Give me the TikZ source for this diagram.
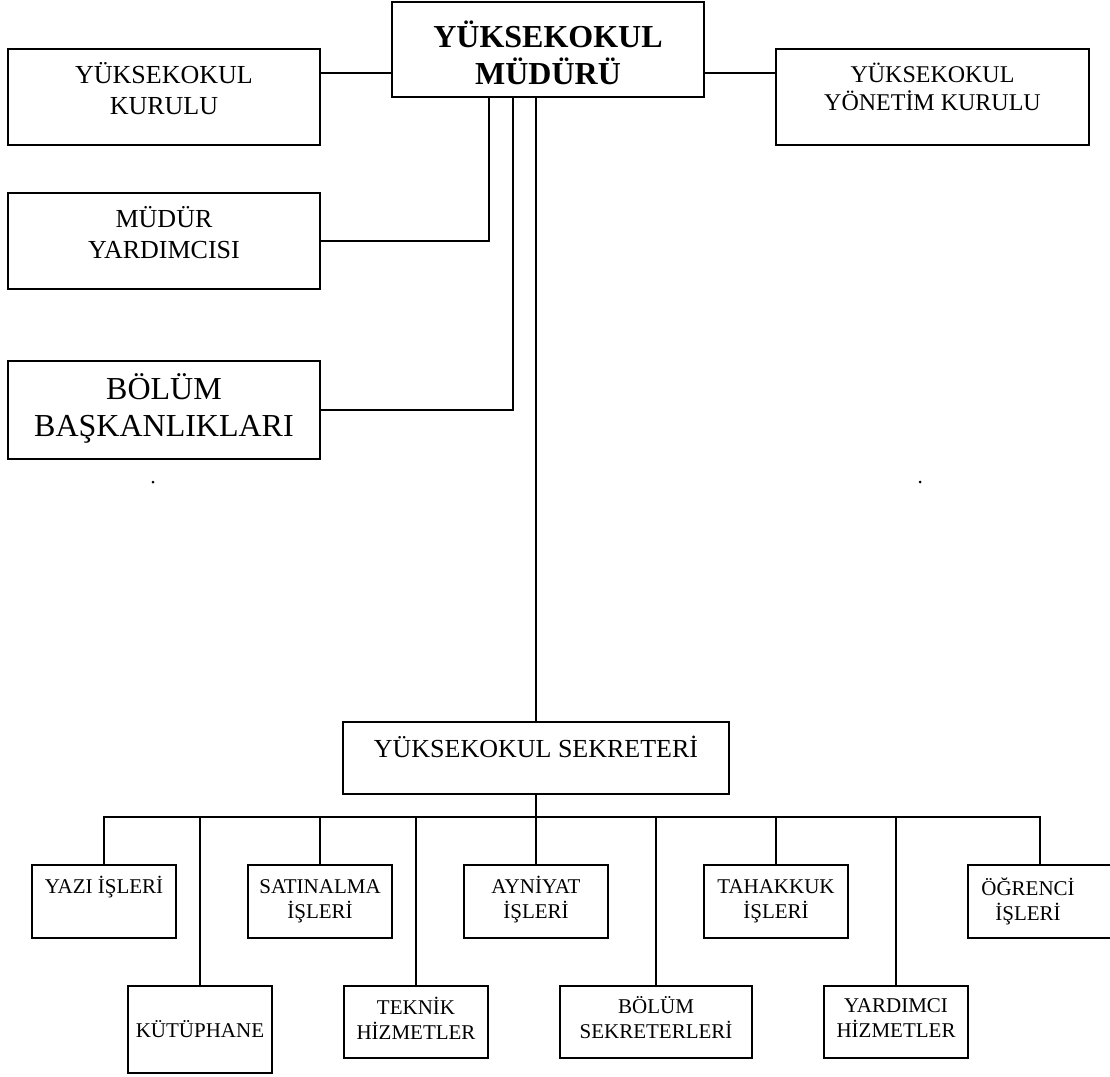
\documentclass[tikz,border=0pt]{standalone}
\usepackage{fontspec}
\setmainfont{Liberation Serif}
\begin{document}
\begin{tikzpicture}[x=1pt,y=1pt,
  box/.style={draw, line width=2pt, rectangle, inner sep=0pt, outer sep=0pt},
  conn/.style={line width=2pt},
  lbl/.style={align=center, inner sep=0pt},
  fbig/.style={font=\fontsize{32}{37}\selectfont},
  fbigb/.style={font=\fontsize{32}{37}\selectfont\bfseries},
  fmid/.style={font=\fontsize{26}{31}\selectfont},
  fmids/.style={font=\fontsize{24}{28}\selectfont},
  fsm/.style={font=\fontsize{21}{25}\selectfont}]
\useasboundingbox (0,0) rectangle (1110,-1076);

% top level
\node[box, minimum width=312pt, minimum height=95pt] (mudur) at (548,-49.5) {};
\node[lbl, fbigb] (mudur-t) at ([yshift=-3pt]mudur.center) {YÜKSEKOKUL\\MÜDÜRÜ};

\node[box, minimum width=312pt, minimum height=96pt] (kurulu) at (164,-97) {};
\node[lbl, fmid] (kurulu-t) at ([yshift=8pt]kurulu.center) {YÜKSEKOKUL\\KURULU};

\node[box, minimum width=313pt, minimum height=96pt] (yonetim) at (932.5,-97) {};
\node[lbl, fmids] (yonetim-t) at ([yshift=10pt]yonetim.center) {YÜKSEKOKUL\\YÖNETİM KURULU};

\node[box, minimum width=312pt, minimum height=96pt] (yard) at (164,-241) {};
\node[lbl, fmid] (yard-t) at ([yshift=8pt]yard.center) {MÜDÜR\\YARDIMCISI};

\node[box, minimum width=312pt, minimum height=98pt] (bask) at (164,-410) {};
\node[lbl, fbig] (bask-t) at ([yshift=2pt]bask.center) {BÖLÜM\\BAŞKANLIKLARI};

\node[box, minimum width=386pt, minimum height=72pt] (sek) at (536,-758) {};
\node[lbl, fmid] (sek-t) at ([yshift=11pt]sek.center) {YÜKSEKOKUL SEKRETERİ};

% first row of units
\node[box, minimum width=144pt, minimum height=73pt] (yazi) at (104,-901.5) {};
\node[lbl, fsm] (yazi-t) at ([yshift=14pt]yazi.center) {YAZI İŞLERİ};
\node[box, minimum width=144pt, minimum height=73pt] (satin) at (320,-901.5) {};
\node[lbl, fsm] (satin-t) at (satin.center) {SATINALMA\\İŞLERİ};
\node[box, minimum width=144pt, minimum height=73pt] (ayni) at (536,-901.5) {};
\node[lbl, fsm] (ayni-t) at ([yshift=2pt]ayni.center) {AYNİYAT\\İŞLERİ};
\node[box, minimum width=144pt, minimum height=73pt] (tahak) at (776,-901.5) {};
\node[lbl, fsm] (tahak-t) at (tahak.center) {TAHAKKUK\\İŞLERİ};
\node[box, minimum width=144pt, minimum height=73pt] (ogr) at (1040,-901.5) {};
\node[lbl, fsm] (ogr-t) at ([xshift=-12pt]ogr.center) {ÖĞRENCİ\\İŞLERİ};

% second row of units
\node[box, minimum width=144pt, minimum height=87pt] (kut) at (200,-1029.5) {};
\node[lbl, fsm] (kut-t) at (kut.center) {KÜTÜPHANE};
\node[box, minimum width=144pt, minimum height=72pt] (tek) at (416,-1022) {};
\node[lbl, fsm] (tek-t) at ([yshift=4pt]tek.center) {TEKNİK\\HİZMETLER};
\node[box, minimum width=192pt, minimum height=72pt] (bsek) at (656,-1022) {};
\node[lbl, fsm] (bsek-t) at ([yshift=4pt]bsek.center) {BÖLÜM\\SEKRETERLERİ};
\node[box, minimum width=144pt, minimum height=72pt] (yhiz) at (896,-1022) {};
\node[lbl, fsm] (yhiz-t) at ([yshift=4pt]yhiz.center) {YARDIMCI\\HİZMETLER};

% connectors
\draw[conn] ([yshift=24pt]kurulu.east) -- ([yshift=24pt]kurulu.east -| mudur.west);
\draw[conn] ([yshift=24pt]yonetim.west) -- ([yshift=24pt]yonetim.west -| mudur.east);
\draw[conn] (yard.east) -| ([xshift=-59pt]mudur.south);
\draw[conn] (bask.east) -| ([xshift=-35pt]mudur.south);
\draw[conn] (sek.north) -- (sek.north |- mudur.south);
\coordinate (bus) at (536,-817);
\draw[conn] (sek.south) -- (bus);
\foreach \c in {yazi,satin,ayni,tahak,ogr,kut,tek,bsek,yhiz}
  \draw[conn] (\c.north) |- (bus);

% stray dots
\fill (153,-482) circle (1.5pt);
\fill (920,-482) circle (1.5pt);
\end{tikzpicture}
\end{document}
